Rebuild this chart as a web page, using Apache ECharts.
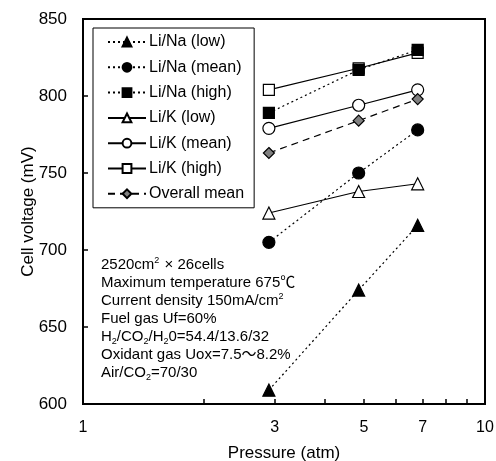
<!DOCTYPE html>
<html>
<head>
<meta charset="utf-8">
<script src="https://cdn.jsdelivr.net/npm/echarts@6/dist/echarts.min.js"></script>
<style>
html,body{margin:0;padding:0;background:#fff;}
#main{width:496px;height:461px;}
</style>
</head>
<body>
<div id="main"></div>
<script>
// 圧力 (atm)
var pressure = [2.9, 4.85, 6.8];
var naLow = [609, 674, 716];
var naMean = [705, 750, 778];
var naHigh = [789, 817, 830];
var kLow = [724, 738, 743];
var kMean = [779, 794, 804];
var kHigh = [804, 818, 828];
var overallMean = [763, 784, 798];
var xLabels = [1, 3, 5, 7, 10];
var xTicks = [2, 3, 4, 5, 6, 7, 8, 9];

function pairs(ys){
  return pressure.map(function(x,i){ return [x, ys[i]]; });
}
function mk(name, ys, symbol, fill, lineType, size){
  return {
    name: name,
    type: 'line',
    data: pairs(ys),
    symbol: symbol,
    symbolSize: size,
    showAllSymbol: true,
    lineStyle: {color: '#000', width: 1.2, type: lineType},
    itemStyle: {color: fill, borderColor: '#000', borderWidth: 1.2},
    emphasis: {disabled: true},
    z: 3
  };
}

var font = '"Liberation Sans", Arial, "Noto Sans CJK JP", sans-serif';
var myChart = echarts.init(document.getElementById('main'));
var option = {
  animation: false,
  textStyle: {fontFamily: font, color: '#000'},
  grid: {
    left: 83, right: 11, top: 19, bottom: 57,
    outerBoundsMode: 'none',
    containLabel: false,
    show: true, borderColor: '#000', borderWidth: 2, backgroundColor: 'transparent'
  },
  legend: {
    orient: 'vertical',
    left: 93, top: 28,
    padding: [6, 10, 6, 14],
    backgroundColor: '#fff',
    borderColor: '#000',
    borderWidth: 1,
    borderRadius: 0,
    itemWidth: 38,
    itemHeight: 11,
    itemGap: 9.3,
    textStyle: {fontSize: 16, fontFamily: font, color: '#000', lineHeight: 16, padding: [0, 0, 0, -2]},
    data: ['Li/Na (low)', 'Li/Na (mean)', 'Li/Na (high)', 'Li/K (low)', 'Li/K (mean)', 'Li/K (high)', 'Overall mean']
  },
  xAxis: {
    type: 'log',
    logBase: 10,
    min: 1, max: 10,
    name: 'Pressure (atm)',
    nameLocation: 'middle',
    nameGap: 41,
    nameMoveOverlap: false,
    nameTextStyle: {fontSize: 17, fontFamily: font, color: '#000'},
    axisLine: {lineStyle: {color: '#000', width: 2}},
    axisTick: {show: true, inside: true, length: 5, customValues: xTicks, lineStyle: {color: '#000', width: 1.5}},
    axisLabel: {fontSize: 16, color: '#000', margin: 16, customValues: xLabels, showMinLabel: true, showMaxLabel: true},
    splitLine: {show: false},
    minorTick: {show: false}
  },
  yAxis: {
    type: 'value',
    min: 600, max: 850, interval: 50,
    name: 'Cell voltage (mV)',
    nameLocation: 'middle',
    nameGap: 46,
    nameMoveOverlap: false,
    nameTextStyle: {fontSize: 17, fontFamily: font, color: '#000'},
    axisLine: {show: true, lineStyle: {color: '#000', width: 2}},
    axisTick: {show: true, inside: true, length: 5, lineStyle: {color: '#000', width: 1.5}},
    axisLabel: {fontSize: 17, color: '#000', margin: 16},
    splitLine: {show: false}
  },
  graphic: [{
    type: 'text',
    left: 101, top: 256,
    style: {
      text: '2520cm{sup|2} × 26cells\nMaximum temperature 675℃\nCurrent density 150mA/cm{sup|2}\nFuel gas Uf=60%\nH{sub|2}/CO{sub|2}/H{sub|2}0=54.4/13.6/32\nOxidant gas Uox=7.5〜8.2%\nAir/CO{sub|2}=70/30',
      font: '15px ' + font,
      fill: '#000',
      lineHeight: 18,
      rich: {
        sup: {fontSize: 9, verticalAlign: 'top', padding: [0, 1, 8, 0], lineHeight: 18},
        sub: {fontSize: 9, verticalAlign: 'bottom', padding: [6, 0, 0, 0], lineHeight: 18}
      }
    }
  }],
  series: [
    mk('Li/K (low)', kLow, 'triangle', '#fff', 'solid', 12),
    mk('Li/K (mean)', kMean, 'circle', '#fff', 'solid', 12),
    mk('Li/K (high)', kHigh, 'rect', '#fff', 'solid', 11),
    mk('Overall mean', overallMean, 'diamond', '#808080', [7, 5], 11),
    mk('Li/Na (low)', naLow, 'triangle', '#000', [2, 3], 12),
    mk('Li/Na (mean)', naMean, 'circle', '#000', [2, 3], 12),
    mk('Li/Na (high)', naHigh, 'rect', '#000', [2, 3], 11)
  ]
};
myChart.setOption(option);
window.addEventListener('resize', function(){
  myChart.resize();
});
</script>
</body>
</html>
